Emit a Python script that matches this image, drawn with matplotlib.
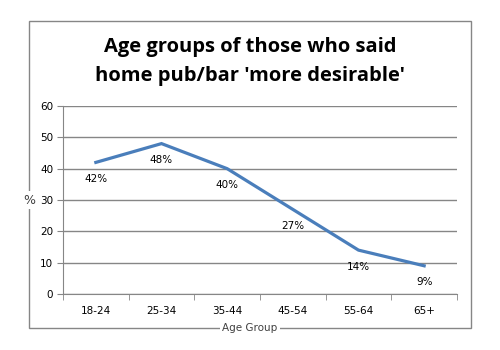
import matplotlib.pyplot as plt
from matplotlib.patches import Rectangle
import numpy as np

groups = ['18-24', '25-34', '35-44', '45-54', '55-64', '65+']
values = [42, 48, 40, 27, 14, 9]
labels = ['42%', '48%', '40%', '27%', '14%', '9%']

W, H = 500, 350
fig = plt.figure(figsize=(5, 3.5), dpi=100)
ax = fig.add_axes([63 / W, 1 - 294 / H, (457 - 63) / W, (294 - 106) / H])

# outer chart border
fig.patches.append(Rectangle((29 / W, 1 - 328 / H), (471 - 29) / W, (328 - 21) / H,
                             transform=fig.transFigure, fill=False,
                             edgecolor='#868686', linewidth=1.0))

x = np.arange(len(groups))
ax.plot(x, values, color='#4A7EBB', linewidth=2.3, solid_joinstyle='miter')
for xi, v, lab in zip(x, values, labels):
    ax.annotate(lab, (xi, v), xytext=(0, -12), textcoords='offset points',
                ha='center', va='center', fontsize=7.5, family='DejaVu Sans')

ax.set_xlim(-0.5, len(groups) - 0.5)
ax.set_ylim(0, 60)
ax.set_yticks(range(0, 61, 10))
ax.yaxis.grid(True, color='#868686', linewidth=1.0)
ax.set_axisbelow(True)

ax.set_xticks(x)
ax.set_xticklabels(groups, fontsize=7.5)
ax.tick_params(axis='x', length=0, pad=9)
ax.set_xticks(np.arange(-0.5, len(groups), 1), minor=True)
ax.tick_params(axis='x', which='minor', length=4, color='#868686')
ax.tick_params(axis='y', length=4, color='#868686', labelsize=7.5, pad=3)

for s in ['top', 'right']:
    ax.spines[s].set_visible(False)
for s in ['left', 'bottom']:
    ax.spines[s].set_color('#868686')

fig.text(0.5, 1 - 47 / H, 'Age groups of those who said', ha='center', va='center',
         fontsize=14.5, fontweight='bold', family='Open Sans')
fig.text(0.5, 1 - 76 / H, "home pub/bar 'more desirable'", ha='center', va='center',
         fontsize=14.5, fontweight='bold', family='Open Sans')

fig.text(250 / W, 1 - 328 / H, 'Age Group', ha='center', va='center', fontsize=7.5,
         color='#404040', bbox=dict(facecolor='white', edgecolor='none', pad=1.5))
fig.text(29 / W, 1 - 200 / H, '%', ha='center', va='center', fontsize=9,
         color='#404040', bbox=dict(facecolor='white', edgecolor='none', pad=1.5))

fig.savefig('out.png', dpi=100)
